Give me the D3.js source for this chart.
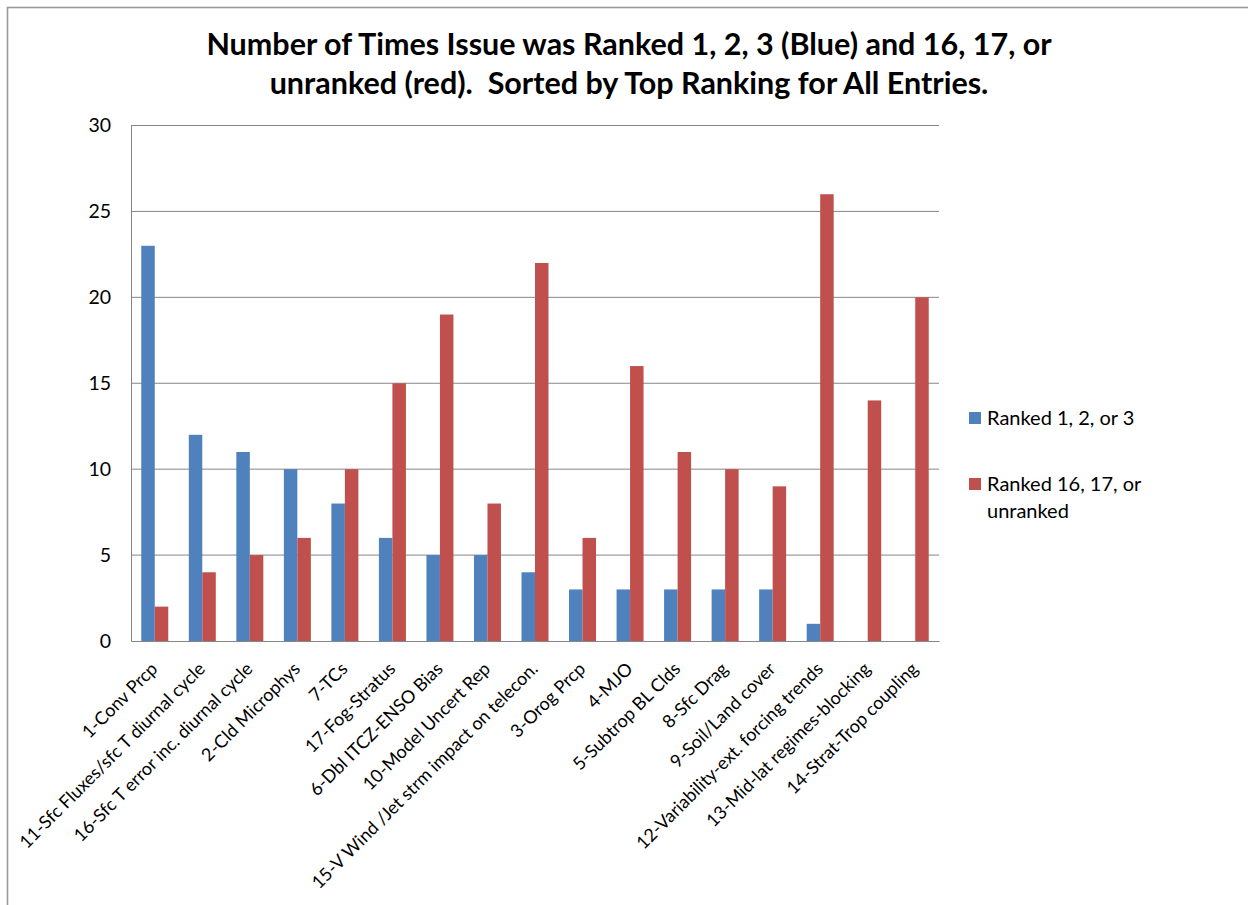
<!DOCTYPE html>
<html>
<head>
<meta charset="utf-8">
<script src="https://cdn.jsdelivr.net/npm/d3@7"></script>
<style>
  html, body { margin: 0; padding: 0; background: #fff; }
  svg { display: block; }
  text { font-family: Lato, "Open Sans", "Liberation Sans", sans-serif; fill: #000; white-space: pre; }
</style>
</head>
<body>
<svg id="chart" width="1248" height="905"></svg>
<script>
// Issues in sorted order (by count of top rankings)
const categories = [
  "1-Conv Prcp",
  "11-Sfc Fluxes/sfc T diurnal cycle",
  "16-Sfc T error inc. diurnal cycle",
  "2-Cld Microphys",
  "7-TCs",
  "17-Fog-Stratus",
  "6-Dbl ITCZ-ENSO Bias",
  "10-Model Uncert Rep",
  "15-V Wind /Jet strm impact on telecon.",
  "3-Orog Prcp",
  "4-MJO",
  "5-Subtrop BL Clds",
  "8-Sfc Drag",
  "9-Soil/Land cover",
  "12-Variability-ext. forcing trends",
  "13-Mid-lat regimes-blocking",
  "14-Strat-Trop coupling"
];

// Number of times ranked 1, 2 or 3
const rankedTop = [23, 12, 11, 10, 8, 6, 5, 5, 4, 3, 3, 3, 3, 3, 1, 0, 0];
// Number of times ranked 16, 17 or left unranked
const rankedBottom = [2, 4, 5, 6, 10, 15, 19, 8, 22, 6, 16, 11, 10, 9, 26, 14, 20];

const seriesNames = ["Ranked 1, 2, or 3", "Ranked 16, 17, or unranked"];
const seriesColors = ["#4F81BD", "#C0504D"];
const yTicks = [0, 5, 10, 15, 20, 25, 30];

const titleLines = [
  "Number of Times Issue was Ranked 1, 2, 3 (Blue) and 16, 17, or",
  "unranked (red).  Sorted by Top Ranking for All Entries."
];

const svg = d3.select("#chart");

// outer chart frame (only top and left edges fall inside the view)
svg.append("rect")
  .attr("x", 7.5).attr("y", 7.5)
  .attr("width", 1400).attr("height", 1100)
  .attr("fill", "none")
  .attr("stroke", "#9a9a9a")
  .attr("stroke-width", 1.6);

const plot = { left: 131, right: 939, top: 125.5, bottom: 641 };

const y = d3.scaleLinear().domain([0, 30]).range([plot.bottom, plot.top]);

const x0 = d3.scaleBand()
  .domain(categories)
  .range([plot.left, plot.right])
  .paddingInner(0.432)
  .paddingOuter(0.216);

const x1 = d3.scaleBand()
  .domain([0, 1])
  .range([0, x0.bandwidth()]);

// value axis
const yAxis = d3.axisLeft(y).tickValues(yTicks).tickSize(0).tickPadding(20);
const gY = svg.append("g")
  .attr("transform", `translate(${plot.left},0)`)
  .call(yAxis);
gY.select(".domain").attr("stroke", "#868686").attr("stroke-width", 1);
gY.selectAll(".tick text")
  .attr("font-size", 19.5)
  .attr("font-family", "Lato, 'Open Sans', sans-serif")
  .attr("fill", "#000");

// horizontal gridlines
svg.append("g")
  .selectAll("line")
  .data(yTicks.filter(d => d > 0))
  .join("line")
  .attr("x1", plot.left).attr("x2", plot.right)
  .attr("y1", d => y(d)).attr("y2", d => y(d))
  .attr("stroke", "#868686")
  .attr("stroke-width", 1);

// bars
const groups = svg.append("g")
  .selectAll("g")
  .data(categories.map((c, i) => ({ c, vals: [rankedTop[i], rankedBottom[i]] })))
  .join("g")
  .attr("transform", d => `translate(${x0(d.c)},0)`);

groups.selectAll("rect")
  .data(d => d.vals.map((v, s) => ({ v, s })))
  .join("rect")
  .attr("x", d => x1(d.s))
  .attr("width", x1.bandwidth())
  .attr("y", d => y(d.v))
  .attr("height", d => y(0) - y(d.v))
  .attr("fill", d => seriesColors[d.s]);

// category axis
const xAxis = d3.axisBottom(x0).tickSize(0).tickFormat("");
const gX = svg.append("g")
  .attr("transform", `translate(0,${plot.bottom})`)
  .call(xAxis);
gX.select(".domain").attr("stroke", "#868686").attr("stroke-width", 1);

svg.append("g")
  .selectAll("text")
  .data(categories)
  .join("text")
  .attr("transform", d => `translate(${x0(d) + x0.bandwidth() / 2 + 4},${plot.bottom + 29}) rotate(-45)`)
  .attr("text-anchor", "end")
  .attr("font-size", 18)
  .text(d => d);

// title
svg.append("g")
  .selectAll("text")
  .data(titleLines)
  .join("text")
  .attr("x", 629)
  .attr("y", (d, i) => 55 + i * 38.5)
  .attr("text-anchor", "middle")
  .attr("font-size", 30.5)
  .attr("font-weight", 700)
  .text(d => d);

// legend
const legend = svg.append("g");
const legendItems = [
  { name: seriesNames[0], color: seriesColors[0], y: 412, lines: ["Ranked 1, 2, or 3"] },
  { name: seriesNames[1], color: seriesColors[1], y: 478, lines: ["Ranked 16, 17, or", "unranked"] }
];
legendItems.forEach(item => {
  legend.append("rect")
    .attr("x", 969).attr("y", item.y)
    .attr("width", 12).attr("height", 12)
    .attr("fill", item.color);
  legend.append("text")
    .attr("x", 987)
    .attr("y", item.y + 13)
    .attr("font-size", 20)
    .selectAll("tspan")
    .data(item.lines)
    .join("tspan")
    .attr("x", 987)
    .attr("dy", (d, i) => i === 0 ? 0 : 26.5)
    .text(d => d);
});
</script>
</body>
</html>
